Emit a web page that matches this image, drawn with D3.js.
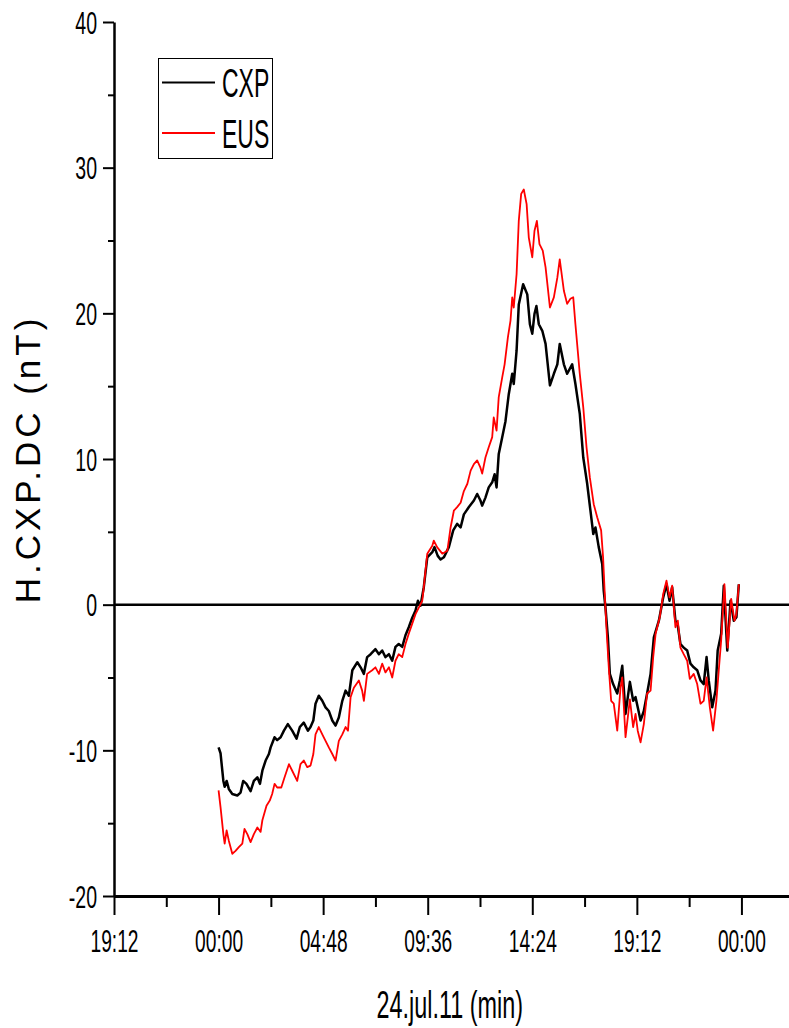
<!DOCTYPE html>
<html>
<head>
<meta charset="utf-8">
<script src="https://cdn.jsdelivr.net/npm/d3@7"></script>
<style>
  body { margin: 0; background: #fff; }
  svg { display: block; font-family: "Liberation Sans", Arial, sans-serif; }
</style>
</head>
<body>
<div id="chart"></div>
<script>
// heures depuis 00:00 du 24 juillet 2011
const cxpTime = [0.00, 0.09, 0.22, 0.28, 0.37, 0.47, 0.63, 0.86, 1.01, 1.13, 1.28, 1.47, 1.62, 1.78, 1.90, 2.01, 2.16, 2.31, 2.39, 2.57, 2.69, 2.85, 3.00, 3.18, 3.38, 3.58, 3.73, 3.91, 4.10, 4.22, 4.35, 4.45, 4.60, 4.76, 4.91, 5.06, 5.22, 5.37, 5.52, 5.68, 5.83, 5.98, 6.14, 6.37, 6.52, 6.67, 6.82, 6.98, 7.20, 7.36, 7.51, 7.66, 7.82, 7.97, 8.12, 8.27, 8.43, 8.58, 8.73, 8.89, 9.04, 9.15, 9.27, 9.42, 9.58, 9.81, 9.91, 10.06, 10.19, 10.34, 10.57, 10.77, 10.95, 11.11, 11.26, 11.49, 11.72, 11.87, 12.02, 12.10, 12.25, 12.40, 12.56, 12.67, 12.76, 12.86, 13.02, 13.17, 13.32, 13.48, 13.55, 13.68, 13.78, 13.98, 14.17, 14.29, 14.40, 14.50, 14.59, 14.70, 14.86, 15.01, 15.21, 15.39, 15.55, 15.66, 15.85, 16.00, 16.23, 16.38, 16.58, 16.74, 16.92, 17.07, 17.20, 17.30, 17.45, 17.61, 17.68, 17.76, 17.87, 17.96, 18.11, 18.30, 18.42, 18.53, 18.68, 18.88, 19.03, 19.14, 19.24, 19.37, 19.52, 19.67, 19.83, 19.98, 20.21, 20.41, 20.56, 20.70, 20.82, 20.97, 21.08, 21.20, 21.35, 21.51, 21.66, 21.81, 21.97, 22.12, 22.27, 22.40, 22.50, 22.66, 22.81, 22.91, 23.07, 23.19, 23.35, 23.50, 23.65, 23.77, 23.88];
const cxpValue = [-9.8, -10.2, -12.1, -12.5, -12.1, -12.65, -13.0, -13.1, -12.9, -12.1, -12.3, -12.8, -12.1, -11.85, -12.3, -11.4, -10.7, -10.25, -9.8, -9.1, -9.3, -9.1, -8.65, -8.2, -8.65, -9.2, -8.4, -8.1, -8.65, -8.4, -7.95, -6.8, -6.25, -6.6, -7.05, -7.3, -7.95, -8.3, -7.75, -6.6, -5.9, -6.25, -4.5, -3.95, -4.3, -4.75, -3.6, -3.4, -3.05, -3.4, -3.15, -3.6, -3.4, -3.85, -2.9, -2.7, -2.9, -2.1, -1.55, -0.9, -0.4, 0.27, -0.07, 1.2, 3.25, 3.6, 3.95, 3.35, 3.1, 3.25, 3.95, 5.1, 5.55, 5.3, 6.2, 6.7, 7.15, 7.6, 7.15, 6.8, 7.35, 8.05, 8.4, 8.95, 8.05, 10.35, 11.5, 12.6, 14.45, 15.85, 15.15, 17.45, 20.6, 22.0, 21.3, 19.25, 18.6, 19.95, 20.5, 19.25, 18.8, 17.9, 15.05, 15.85, 16.5, 17.9, 16.5, 15.85, 16.5, 15.15, 13.1, 10.1, 8.3, 6.45, 4.85, 5.3, 3.95, 2.8, 0.95, -0.2, -2.25, -4.75, -5.45, -6.1, -5.2, -4.2, -7.5, -5.3, -6.6, -6.35, -7.05, -7.95, -7.3, -6.1, -4.75, -2.25, -1.1, 0.5, 1.4, 0.27, 1.2, -1.1, -1.45, -2.7, -2.95, -3.15, -4.05, -4.3, -4.5, -5.2, -5.45, -3.6, -5.2, -7.05, -5.9, -3.15, -2.0, 1.3, -3.15, 0.27, -1.1, -0.87, 1.4];

const eusTime = [0.00, 0.09, 0.22, 0.28, 0.37, 0.47, 0.63, 0.78, 0.93, 1.09, 1.19, 1.32, 1.47, 1.62, 1.78, 1.93, 2.01, 2.20, 2.35, 2.46, 2.57, 2.69, 2.88, 3.03, 3.23, 3.38, 3.61, 3.76, 3.91, 4.07, 4.22, 4.35, 4.45, 4.60, 4.76, 4.91, 5.06, 5.22, 5.37, 5.52, 5.68, 5.83, 5.94, 6.06, 6.21, 6.44, 6.59, 6.67, 6.82, 7.05, 7.20, 7.36, 7.51, 7.66, 7.82, 7.97, 8.12, 8.27, 8.43, 8.58, 8.73, 8.89, 9.04, 9.19, 9.35, 9.42, 9.58, 9.81, 9.88, 10.03, 10.27, 10.50, 10.65, 10.80, 10.95, 11.11, 11.26, 11.42, 11.57, 11.72, 11.87, 12.02, 12.10, 12.25, 12.40, 12.56, 12.63, 12.76, 12.86, 13.02, 13.13, 13.28, 13.40, 13.48, 13.55, 13.68, 13.78, 13.89, 14.01, 14.14, 14.24, 14.40, 14.50, 14.61, 14.73, 14.88, 15.01, 15.21, 15.39, 15.55, 15.66, 15.85, 16.00, 16.15, 16.28, 16.38, 16.58, 16.74, 16.89, 17.04, 17.22, 17.38, 17.56, 17.65, 17.74, 17.82, 17.92, 18.02, 18.14, 18.30, 18.45, 18.53, 18.68, 18.88, 19.03, 19.14, 19.24, 19.37, 19.52, 19.67, 19.83, 19.95, 20.06, 20.25, 20.41, 20.56, 20.70, 20.82, 20.97, 21.08, 21.20, 21.35, 21.51, 21.63, 21.81, 21.97, 22.12, 22.27, 22.40, 22.55, 22.70, 22.85, 22.96, 23.07, 23.22, 23.37, 23.53, 23.68, 23.77, 23.88];
const eusValue = [-12.75, -13.9, -15.75, -16.4, -15.5, -16.2, -17.1, -16.9, -16.65, -16.4, -15.4, -15.75, -16.3, -15.75, -15.3, -15.6, -14.8, -13.8, -13.45, -13.0, -12.3, -12.55, -12.55, -11.85, -10.95, -11.4, -12.1, -10.95, -10.7, -11.15, -11.05, -10.25, -8.9, -8.4, -8.9, -9.35, -9.8, -10.25, -10.7, -9.35, -8.9, -8.4, -8.65, -6.35, -5.7, -5.2, -5.9, -6.6, -4.75, -4.5, -4.3, -4.75, -4.05, -4.65, -4.3, -5.0, -3.85, -3.4, -3.6, -2.7, -2.0, -1.3, -0.65, -0.2, 0.27, 1.2, 3.5, 4.05, 4.4, 3.95, 3.5, 3.7, 5.3, 6.45, 6.7, 7.0, 7.8, 8.3, 9.2, 9.65, 9.9, 9.4, 9.0, 10.1, 10.8, 11.5, 12.85, 11.95, 14.25, 15.6, 16.5, 18.35, 19.5, 21.1, 20.4, 22.7, 26.35, 28.2, 28.5, 27.5, 25.2, 23.85, 25.65, 26.35, 24.75, 24.3, 23.15, 20.4, 21.1, 22.45, 23.7, 21.55, 20.65, 21.0, 21.1, 19.25, 15.85, 13.55, 10.8, 8.75, 6.9, 6.0, 5.1, 3.25, 0.3, -2.0, -4.5, -6.6, -6.8, -8.65, -5.7, -5.0, -9.1, -6.5, -8.4, -7.5, -8.65, -9.45, -8.2, -6.1, -5.9, -3.6, -2.0, -0.87, 0.73, 1.65, 0.5, 1.3, -1.55, -1.1, -2.95, -3.4, -3.85, -5.1, -4.75, -5.45, -6.8, -6.6, -5.0, -7.05, -8.65, -6.6, -4.5, -2.45, 1.4, -2.95, 0.4, -1.1, -0.65, 1.4];

const xTickHours = [-4.8, 0, 4.8, 9.6, 14.4, 19.2, 24];
const xTickLabels = ['19:12', '00:00', '04:48', '09:36', '14:24', '19:12', '00:00'];
const xMinorHours = [-2.4, 2.4, 7.2, 12, 16.8, 21.6, 26.4];
const yTicks = [-20, -10, 0, 10, 20, 30, 40];
const yMinorTicks = [-15, -5, 5, 15, 25, 35];

const seriesNames = ['CXP', 'EUS'];
const seriesColors = ['#000000', '#ff0000'];

const width = 789;
const height = 1028;
const squeeze = 0.6; // le texte d'origine est tasse horizontalement

const svg = d3.select('#chart')
  .append('svg')
  .attr('width', width)
  .attr('height', height);

const x = d3.scaleLinear().domain([-4.8, 28.8]).range([114, 846]);
const y = d3.scaleLinear().domain([-20, 40]).range([896, 22]);

// axe X : graduations principales puis secondaires
const xAxis = svg.append('g')
  .attr('transform', `translate(0,${y(-20)})`)
  .call(d3.axisBottom(x)
    .tickValues(xTickHours)
    .tickFormat((d, i) => xTickLabels[i])
    .tickSize(19)
    .tickSizeOuter(0));
xAxis.select('.domain').attr('stroke-width', 3);
xAxis.selectAll('.tick line').attr('stroke-width', 2);
xAxis.selectAll('.tick text')
  .attr('y', 0)
  .attr('dy', 0)
  .attr('font-size', 32)
  .attr('fill', '#000')
  .attr('transform', `translate(0,56) scale(${squeeze},1)`);

svg.append('g')
  .attr('transform', `translate(0,${y(-20)})`)
  .call(d3.axisBottom(x).tickValues(xMinorHours).tickFormat('').tickSize(11).tickSizeOuter(0))
  .call(g => g.select('.domain').remove())
  .selectAll('.tick line').attr('stroke-width', 2);

// axe Y
const yAxis = svg.append('g')
  .attr('transform', `translate(${x(-4.8)},0)`)
  .call(d3.axisLeft(y)
    .tickValues(yTicks)
    .tickFormat(d => String(d))
    .tickSize(11)
    .tickSizeOuter(0));
yAxis.select('.domain').attr('stroke-width', 2.5);
yAxis.selectAll('.tick line').attr('stroke-width', 2);
yAxis.selectAll('.tick text')
  .attr('x', 0)
  .attr('dy', '0.36em')
  .attr('font-size', 31)
  .attr('fill', '#000')
  .attr('transform', `translate(-17,0) scale(0.63,1)`);

svg.append('g')
  .attr('transform', `translate(${x(-4.8)},0)`)
  .call(d3.axisLeft(y).tickValues(yMinorTicks).tickFormat('').tickSize(6).tickSizeOuter(0))
  .call(g => g.select('.domain').remove())
  .selectAll('.tick line').attr('stroke-width', 2);

// ligne du zero
svg.append('line')
  .attr('x1', x(-4.8))
  .attr('x2', width)
  .attr('y1', y(0))
  .attr('y2', y(0))
  .attr('stroke', '#000')
  .attr('stroke-width', 2.5);

// courbes
const line = d3.line()
  .x(d => x(d[0]))
  .y(d => y(d[1]));

const series = [
  d3.zip(cxpTime, cxpValue),
  d3.zip(eusTime, eusValue)
];

series.forEach((data, i) => {
  svg.append('path')
    .datum(data)
    .attr('fill', 'none')
    .attr('stroke', seriesColors[i])
    .attr('stroke-width', i === 0 ? 2.5 : 1.8)
    .attr('stroke-linejoin', 'round')
    .attr('d', line);
});

// titres des axes
svg.append('text')
  .attr('transform', `translate(${x(9.6) + 22},1018) scale(${squeeze},1)`)
  .attr('text-anchor', 'middle')
  .attr('font-size', 39)
  .text('24.jul.11 (min)');

svg.append('text')
  .attr('transform', `translate(40,${y(10)}) rotate(-90)`)
  .attr('text-anchor', 'middle')
  .attr('font-size', 35)
  .attr('letter-spacing', 4)
  .text('H.CXP.DC (nT)');

// legende
const legend = svg.append('g');
legend.append('rect')
  .attr('x', 158.5)
  .attr('y', 58.5)
  .attr('width', 114)
  .attr('height', 100)
  .attr('fill', '#fff')
  .attr('stroke', '#000')
  .attr('stroke-width', 1);

seriesNames.forEach((name, i) => {
  const ly = 82.5 + i * 50.5;
  legend.append('line')
    .attr('x1', 162)
    .attr('x2', 215)
    .attr('y1', ly)
    .attr('y2', ly)
    .attr('stroke', seriesColors[i])
    .attr('stroke-width', 2.2);
  legend.append('text')
    .attr('transform', `translate(222,${ly + 14.5}) scale(0.56,1)`)
    .attr('font-size', 41)
    .text(name);
});
</script>
</body>
</html>
